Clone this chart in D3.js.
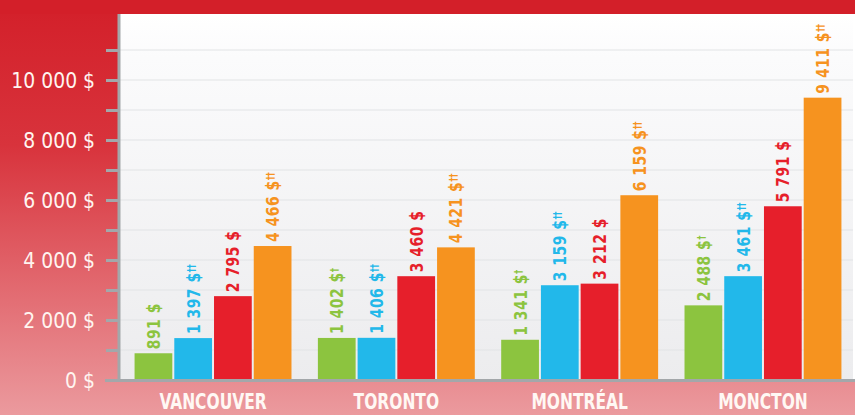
<!DOCTYPE html>
<html><head><meta charset="utf-8">
<script src="https://cdn.jsdelivr.net/npm/d3@7"></script>
<style>
html,body{margin:0;padding:0;background:#fff;}
svg{display:block;}
</style></head>
<body>
<svg id="chart" width="855" height="415"></svg>
<script>
const cities = ["VANCOUVER", "TORONTO", "MONTRÉAL", "MONCTON"];
const seriesNames = ["green", "blue", "red", "orange"];
const greenValues = [891, 1402, 1341, 2488];
const blueValues = [1397, 1406, 3159, 3461];
const redValues = [2795, 3460, 3212, 5791];
const orangeValues = [4466, 4421, 6159, 9411];
const greenMarks = ["", "†", "†", "†"];
const blueMarks = ["††", "††", "††", "††"];
const redMarks = ["", "", "", ""];
const orangeMarks = ["††", "††", "††", "††"];
const yTickValues = [0, 1000, 2000, 3000, 4000, 5000, 6000, 7000, 8000, 9000, 10000, 11000];
const yLabelValues = [0, 2000, 4000, 6000, 8000, 10000];

const colors = {green: "#8cc43f", blue: "#22b8ea", red: "#e61f2b", orange: "#f6931f"};
const valuesBy = {green: greenValues, blue: blueValues, red: redValues, orange: orangeValues};
const marksBy = {green: greenMarks, blue: blueMarks, red: redMarks, orange: orangeMarks};

const W = 855, H = 415;
const plot = {left: 119, right: 853, top: 14, bottom: 380};
const svg = d3.select("#chart");
const defs = svg.append("defs");

const bg = defs.append("linearGradient").attr("id", "bgGrad").attr("x1", 0).attr("y1", 0).attr("x2", 0).attr("y2", 1);
bg.append("stop").attr("offset", "0%").attr("stop-color", "#d31f29");
bg.append("stop").attr("offset", "35%").attr("stop-color", "#d8333c");
bg.append("stop").attr("offset", "100%").attr("stop-color", "#eb9a9e");
const pg = defs.append("linearGradient").attr("id", "plotGrad").attr("x1", 0).attr("y1", 0).attr("x2", 0).attr("y2", 1);
pg.append("stop").attr("offset", "0%").attr("stop-color", "#ffffff");
pg.append("stop").attr("offset", "12%").attr("stop-color", "#fbfbfc");
pg.append("stop").attr("offset", "100%").attr("stop-color", "#ececee");

svg.append("rect").attr("width", W).attr("height", H).attr("fill", "url(#bgGrad)");
svg.append("rect").attr("x", 0).attr("y", 0).attr("width", W).attr("height", plot.top).attr("fill", "#d31f29");
svg.append("rect").attr("x", plot.left).attr("y", plot.top)
  .attr("width", plot.right - plot.left).attr("height", plot.bottom - plot.top)
  .attr("fill", "url(#plotGrad)");
svg.append("rect").attr("x", plot.right).attr("y", plot.top).attr("width", 2).attr("height", plot.bottom - plot.top).attr("fill", "#ffffff");

const y = d3.scaleLinear().domain([0, 12200]).range([plot.bottom, plot.top]);
const x0 = d3.scaleBand().domain(cities).range([121, 855]).paddingInner(0.144).paddingOuter(0.074);
const x1 = d3.scaleBand().domain(seriesNames).range([0, x0.bandwidth()]).paddingInner(0.05);

// gridlines
svg.append("g").selectAll("line").data(yTickValues.filter(v => v > 0)).join("line")
  .attr("x1", plot.left).attr("x2", plot.right)
  .attr("y1", d => y(d)).attr("y2", d => y(d))
  .attr("stroke", "#e2e3e6").attr("stroke-width", 1.2);

const condensed = "'DejaVu Sans Condensed', 'Liberation Sans Narrow', sans-serif";

// y axis
const yAxis = d3.axisLeft(y).tickValues(yTickValues).tickSize(13).tickFormat("");
const yg = svg.append("g").attr("transform", `translate(${plot.left},0)`).call(yAxis);
yg.select(".domain").attr("stroke", "#a3a7aa").attr("stroke-width", 3).attr("d", `M0,${plot.top}V${plot.bottom}`);
yg.selectAll(".tick line").attr("stroke", "#a3a7aa").attr("stroke-width", 3);

svg.append("g").selectAll("text").data(yLabelValues).join("text")
  .attr("transform", d => `translate(95,${y(d)}) scale(0.95,1)`)
  .attr("dy", "0.36em")
  .attr("text-anchor", "end").attr("fill", "#fff5f0")
  .style("font-family", condensed).style("font-size", "22px")
  .text(d => d3.format(",")(d).replace(/,/g, " ") + " $");

// bars
const groups = svg.append("g").selectAll("g").data(cities).join("g")
  .attr("transform", d => `translate(${x0(d)},0)`);
groups.each(function(city, ci) {
  const g = d3.select(this);
  seriesNames.forEach(s => {
    const v = valuesBy[s][ci];
    g.append("rect").attr("x", x1(s)).attr("width", x1.bandwidth())
      .attr("y", y(v)).attr("height", y(0) - y(v))
      .attr("fill", colors[s]);
    const cx = x1(s) + x1.bandwidth() / 2;
    const ty = y(v) - 4;
    const t = g.append("text")
      .attr("transform", `translate(${cx},${ty}) rotate(-90) scale(0.86,1)`)
      .attr("dy", "0.36em")
      .attr("fill", colors[s])
      .style("font-family", condensed).style("font-weight", "bold")
      .style("font-size", "18px").style("letter-spacing", "0.6px");
    t.append("tspan").text(d3.format(",")(v).replace(/,/g, " ") + " $");
    if (marksBy[s][ci]) {
      t.append("tspan").attr("dy", "-0.45em").style("font-size", "11px").style("letter-spacing", "-0.5px").text(marksBy[s][ci]);
    }
  });
});

// x axis line
svg.append("rect").attr("x", 105).attr("y", plot.bottom - 1).attr("width", W - 105).attr("height", 3).attr("fill", "#a3a7aa");

// x labels
svg.append("g").selectAll("text").data(cities).join("text")
  .attr("transform", d => `translate(${x0(d) + x0.bandwidth() / 2},409) scale(0.82,1)`)
  .attr("text-anchor", "middle").attr("fill", "#fff8f4")
  .style("font-family", condensed).style("font-weight", "bold").style("font-size", "21px")
  .text(d => d);
</script>
</body></html>
